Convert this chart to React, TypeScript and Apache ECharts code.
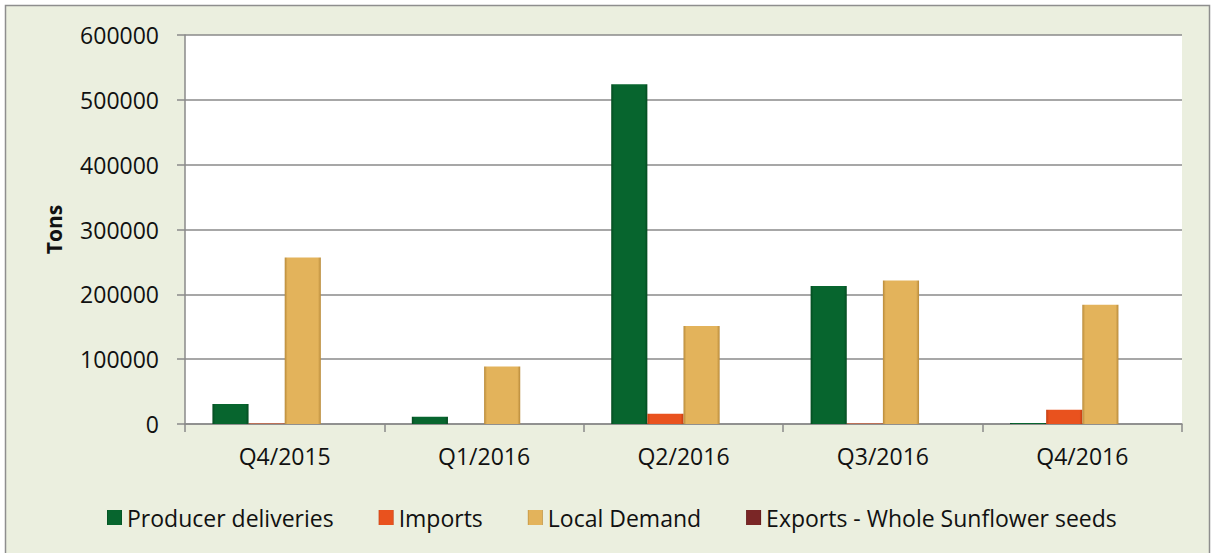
import React, { useEffect, useRef } from "react";
import * as echarts from "echarts";

const categories = ["Q4/2015", "Q1/2016", "Q2/2016", "Q3/2016", "Q4/2016"];
const producerDeliveries = [31000, 11000, 524000, 213000, 1500];
const imports = [800, 0, 16000, 800, 22000];
const localDemand = [257000, 88500, 151000, 221500, 184000];
const exportsWhole = [0, 0, 0, 0, 0];
const yTicks = { min: 0, max: 600000, interval: 100000 };

const FONT = "'Open Sans', sans-serif";

function barStyle(base: string, edge: string) {
  return {
    color: new echarts.graphic.LinearGradient(0, 0, 1, 0, [
      { offset: 0, color: edge },
      { offset: 0.08, color: base },
      { offset: 0.92, color: base },
      { offset: 1, color: edge },
    ]),
    borderWidth: 0,
  };
}

export default function App() {
  const ref = useRef<HTMLDivElement>(null);
  useEffect(() => {
    if (!ref.current) return;
    const chart = echarts.init(ref.current, undefined, { renderer: "svg" });
    const mk = (name: string, data: number[], base: string, edge: string) => ({
      name,
      type: "bar",
      data,
      barGap: "0%",
      barCategoryGap: "27.5%",
      itemStyle: barStyle(base, edge),
    });
    chart.setOption({
      animation: false,
      backgroundColor: "#ffffff",
      textStyle: { fontFamily: FONT },
      graphic: [
        {
          type: "rect",
          z: -10,
          silent: true,
          shape: { x: 5.5, y: 5.5, width: 1204, height: 560 },
          style: { fill: "#EBEFDF", stroke: "#8E8E8E", lineWidth: 1.5 },
        },
      ],
      grid: {
        left: 185,
        right: 29,
        top: 35,
        bottom: 129,
        show: true,
        backgroundColor: "#ffffff",
        borderWidth: 0,
        z: -5,
      },
      legend: {
        left: 102,
        top: 501,
        itemWidth: 15,
        itemHeight: 15,
        itemGap: 45,
        icon: "rect",
        textStyle: { fontFamily: FONT, fontSize: 23, color: "#111" },
        data: ["Producer deliveries", "Imports", "Local Demand", "Exports - Whole Sunflower seeds"],
      },
      xAxis: {
        type: "category",
        data: categories,
        axisLine: { show: true, lineStyle: { color: "#8A8A8A", width: 1.5 } },
        axisTick: { show: true, length: 8, lineStyle: { color: "#8A8A8A", width: 1.5 } },
        axisLabel: { fontFamily: FONT, fontSize: 23, color: "#111", margin: 20 },
      },
      yAxis: {
        type: "value",
        min: yTicks.min,
        max: yTicks.max,
        interval: yTicks.interval,
        name: "Tons",
        nameLocation: "middle",
        nameGap: 121,
        nameRotate: 90,
        nameTextStyle: { fontFamily: FONT, fontSize: 21, fontWeight: "bold", color: "#111" },
        axisLine: { show: true, lineStyle: { color: "#8A8A8A", width: 1.5 } },
        axisTick: { show: true, length: 8, lineStyle: { color: "#8A8A8A", width: 1.5 } },
        axisLabel: {
          fontFamily: FONT,
          fontSize: 23,
          color: "#111",
          margin: 26,
          formatter: (v: number) => String(v),
        },
        splitLine: { show: true, lineStyle: { color: "#8A8A8A", width: 1.5 } },
      },
      series: [
        mk("Producer deliveries", producerDeliveries, "#07652E", "#044A20"),
        mk("Imports", imports, "#E9521E", "#C23E12"),
        mk("Local Demand", localDemand, "#E3B35B", "#B88A3A"),
        mk("Exports - Whole Sunflower seeds", exportsWhole, "#7A2626", "#5A1818"),
      ],
      color: ["#07652E", "#E9521E", "#E3B35B", "#7A2626"],
    });
    return () => chart.dispose();
  }, []);
  return (
    <div
      ref={ref}
      style={{ position: "absolute", left: 0, top: 0, width: 1211, height: 553 }}
    />
  );
}
